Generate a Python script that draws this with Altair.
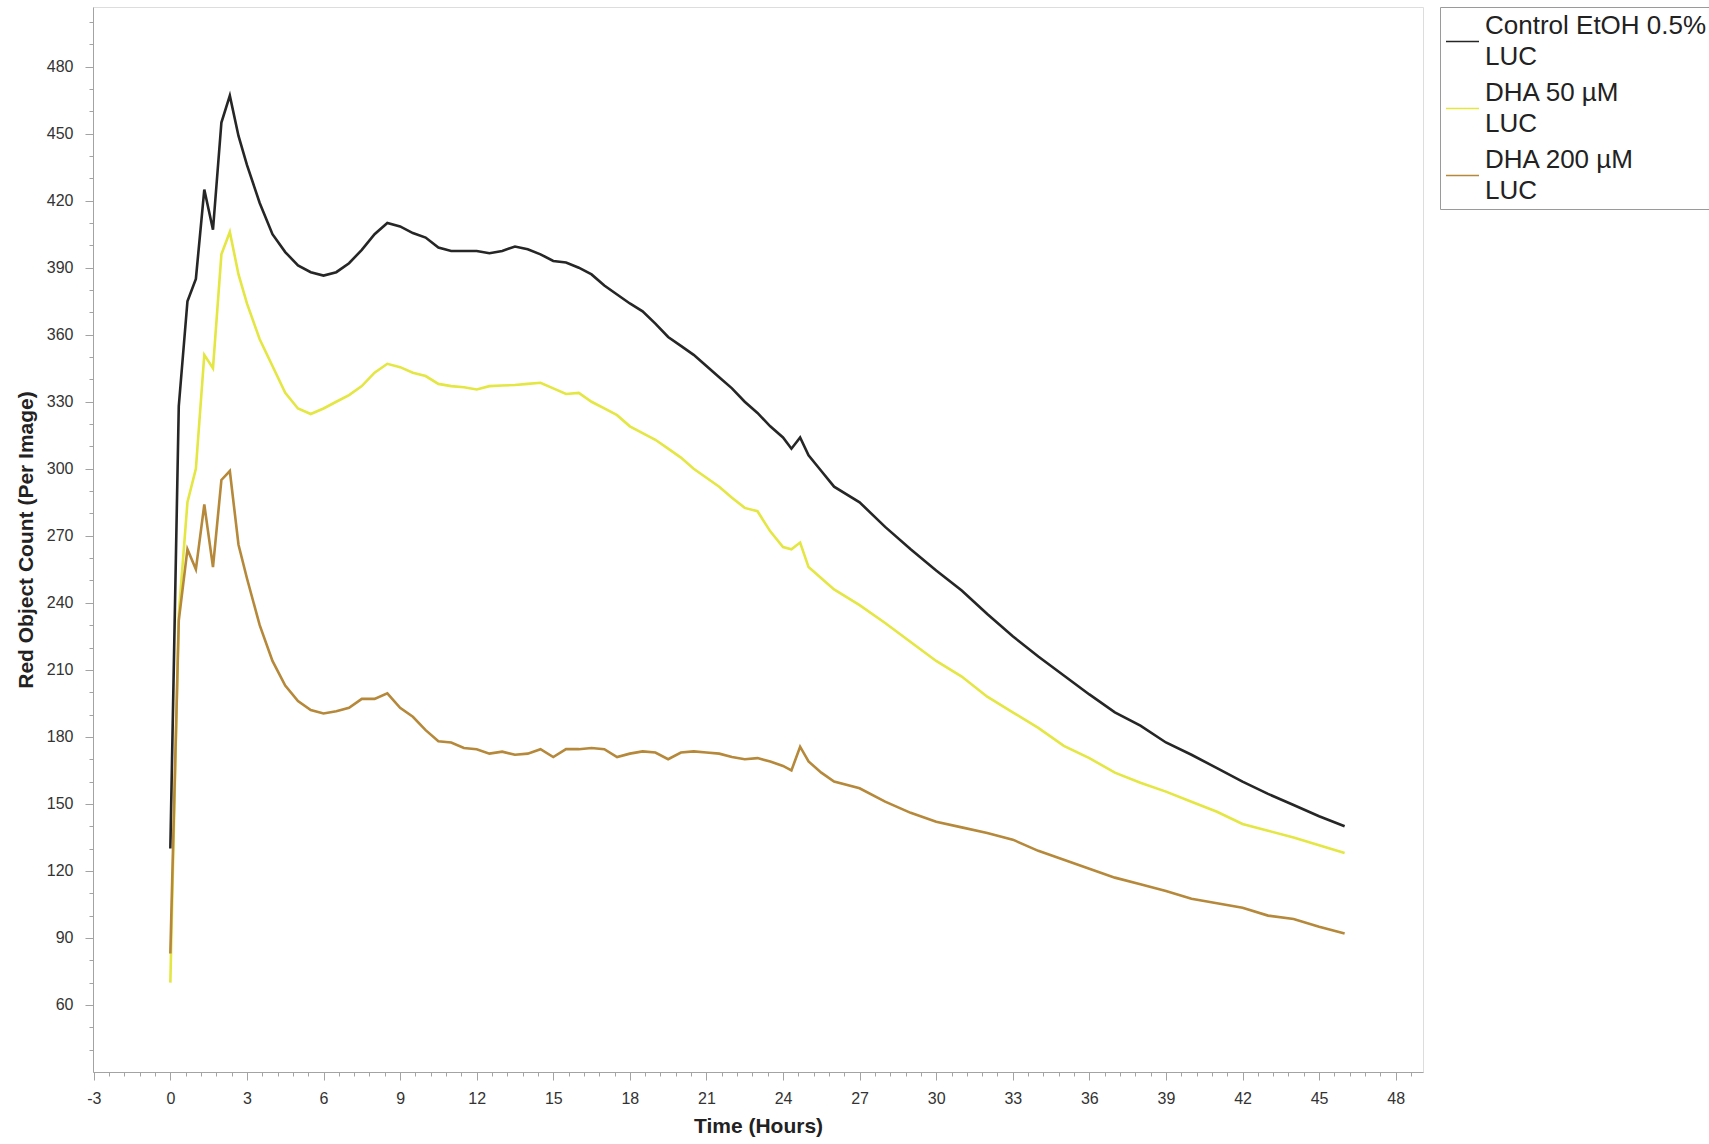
import altair as alt
import pandas as pd

# Sampling times (hours) shared by all three series
hours = [0, 0.33, 0.67, 1, 1.33, 1.67, 2, 2.33, 2.67, 3,
         3.5, 4, 4.5, 5, 5.5, 6, 6.5, 7, 7.5, 8, 8.5, 9, 9.5, 10,
         10.5, 11, 11.5, 12, 12.5, 13, 13.5, 14, 14.5, 15, 15.5, 16,
         16.5, 17, 17.5, 18, 18.5, 19, 19.5, 20, 20.5, 21, 21.5, 22,
         22.5, 23, 23.5, 24, 24.33, 24.67, 25, 25.5, 26,
         27, 28, 29, 30, 31, 32, 33, 34, 35, 36, 37, 38, 39, 40,
         41, 42, 43, 44, 45, 46]

control_etoh = [130, 328, 375, 385, 425, 407, 455, 467, 449, 436,
                419, 405, 397, 391, 388, 386.5, 388, 392, 398, 405, 410, 408.5, 405.5, 403.5,
                399, 397.5, 397.5, 397.5, 396.5, 397.5, 399.5, 398.3, 396, 393, 392.3, 390,
                387, 382, 378, 374, 370.5, 365, 359, 355, 351, 346, 341, 336,
                330, 325, 319, 314, 309, 314, 306, 299, 292,
                285, 274, 264, 254.5, 245.5, 235, 225, 216, 207.5, 199, 191, 185, 177.5, 172,
                166, 160, 154.5, 149.5, 144.5, 140]

dha_50 = [70, 235, 285, 300, 351, 345, 396, 406, 387, 374,
          358, 346, 334, 327, 324.5, 327, 330, 333, 337, 343, 347, 345.5, 343, 341.5,
          338, 337, 336.5, 335.5, 337, 337.3, 337.5, 338, 338.5, 336, 333.5, 334,
          330, 327, 324, 319, 316, 313, 309, 305, 300, 296, 292, 287,
          282.5, 281, 272, 265, 264, 267, 256, 251, 246,
          239, 231, 222.5, 214, 207, 198, 191, 184, 176, 170.5, 164, 159.5, 155.5, 151,
          146.5, 141, 138, 135, 131.5, 128]

dha_200 = [83, 232, 264, 255, 284, 256, 295, 299, 266, 251,
           230, 214, 203, 196, 192, 190.5, 191.5, 193, 197, 197, 199.5, 193, 189, 183,
           178, 177.5, 175, 174.5, 172.5, 173.4, 172, 172.5, 174.5, 171, 174.5, 174.5,
           175, 174.5, 171, 172.5, 173.5, 173, 170, 173, 173.5, 173, 172.5, 171,
           170, 170.5, 169, 167, 165, 175.6, 169, 164, 160,
           157, 151, 146, 142, 139.5, 137, 134, 129, 125, 121, 117, 114, 111, 107.5,
           105.5, 103.5, 100, 98.5, 95, 92]

series_labels = ["Control EtOH 0.5%|LUC", "DHA 50 µM|LUC", "DHA 200 µM|LUC"]
series_colors = ["#262626", "#e4e642", "#b5883a"]

y_tick_values = list(range(40, 501, 10))
x_tick_values = [round(-3 + 0.6 * k, 1) for k in range(87)]

frames = []
for name, vals in zip(series_labels, [control_etoh, dha_50, dha_200]):
    frames.append(pd.DataFrame({"hours": hours, "count": vals, "series": name}))
df = pd.concat(frames, ignore_index=True)

FONT = "Liberation Sans"
GRAY = "#a3a3a3"

x_major = "abs(datum.value / 3 - round(datum.value / 3)) < 0.001"
y_major = "datum.value % 30 === 0"

x_axis = alt.Axis(
    values=x_tick_values,
    title="Time (Hours)",
    labelExpr=f"{x_major} ? '' + round(datum.value) : ''",
    tickSize={"condition": {"test": x_major, "value": 8}, "value": 4},
    labelOverlap=False,
    labelFlush=False,
    grid=False,
    labelFont=FONT,
    labelFontSize=16,
    labelColor="#333333",
    labelPadding=10,
    tickColor=GRAY,
    domainColor=GRAY,
    titleFont=FONT,
    titleFontSize=21,
    titleFontWeight="bold",
    titleColor="#222222",
    titlePadding=9,
)

y_axis = alt.Axis(
    values=y_tick_values,
    title="Red Object Count (Per Image)",
    labelExpr=f"{y_major} ? '' + datum.value : ''",
    tickSize={"condition": {"test": y_major, "value": 8}, "value": 4},
    labelOverlap=False,
    labelFlush=False,
    grid=False,
    labelFont=FONT,
    labelFontSize=16,
    labelColor="#333333",
    labelPadding=12,
    tickColor=GRAY,
    domainColor=GRAY,
    titleFont=FONT,
    titleFontSize=21,
    titleFontWeight="bold",
    titleColor="#222222",
    titlePadding=10,
)

legend = alt.Legend(
    title=" ",
    titleFontSize=8,
    titlePadding=4,
    orient="none",
    legendX=1347,
    legendY=0,
    symbolType="stroke",
    symbolSize=1089,
    symbolStrokeWidth=1.5,
    labelFont=FONT,
    labelFontSize=26,
    labelColor="#222222",
    labelExpr="split(datum.label, '|')",
    labelBaseline="line-bottom",
    labelLimit=0,
    labelOffset=5,
    padding=5,
    rowPadding=9,
    strokeColor="#9a9a9a",
    fillColor="white",
)

chart = (
    alt.Chart(df)
    .mark_line(strokeWidth=2.6)
    .encode(
        x=alt.X("hours:Q", scale=alt.Scale(domain=[-3.03, 49.07], nice=False, zero=False), axis=x_axis),
        y=alt.Y("count:Q", scale=alt.Scale(domain=[30, 506.7], nice=False, zero=False), axis=y_axis),
        color=alt.Color("series:N", scale=alt.Scale(domain=series_labels, range=series_colors), legend=legend),
    )
    .properties(
        width=1330,
        height=1065,
        autosize=alt.AutoSizeParams(type="none"),
        padding={"left": 93, "top": 7, "right": 286, "bottom": 72},
        background="white",
    )
    .configure_view(stroke="#a8a8a8", strokeWidth=1)
    .configure(style={"guide-label": {"lineHeight": 31.5}})
)

chart.save("out.html", embed_options={"renderer": "svg", "actions": False})
